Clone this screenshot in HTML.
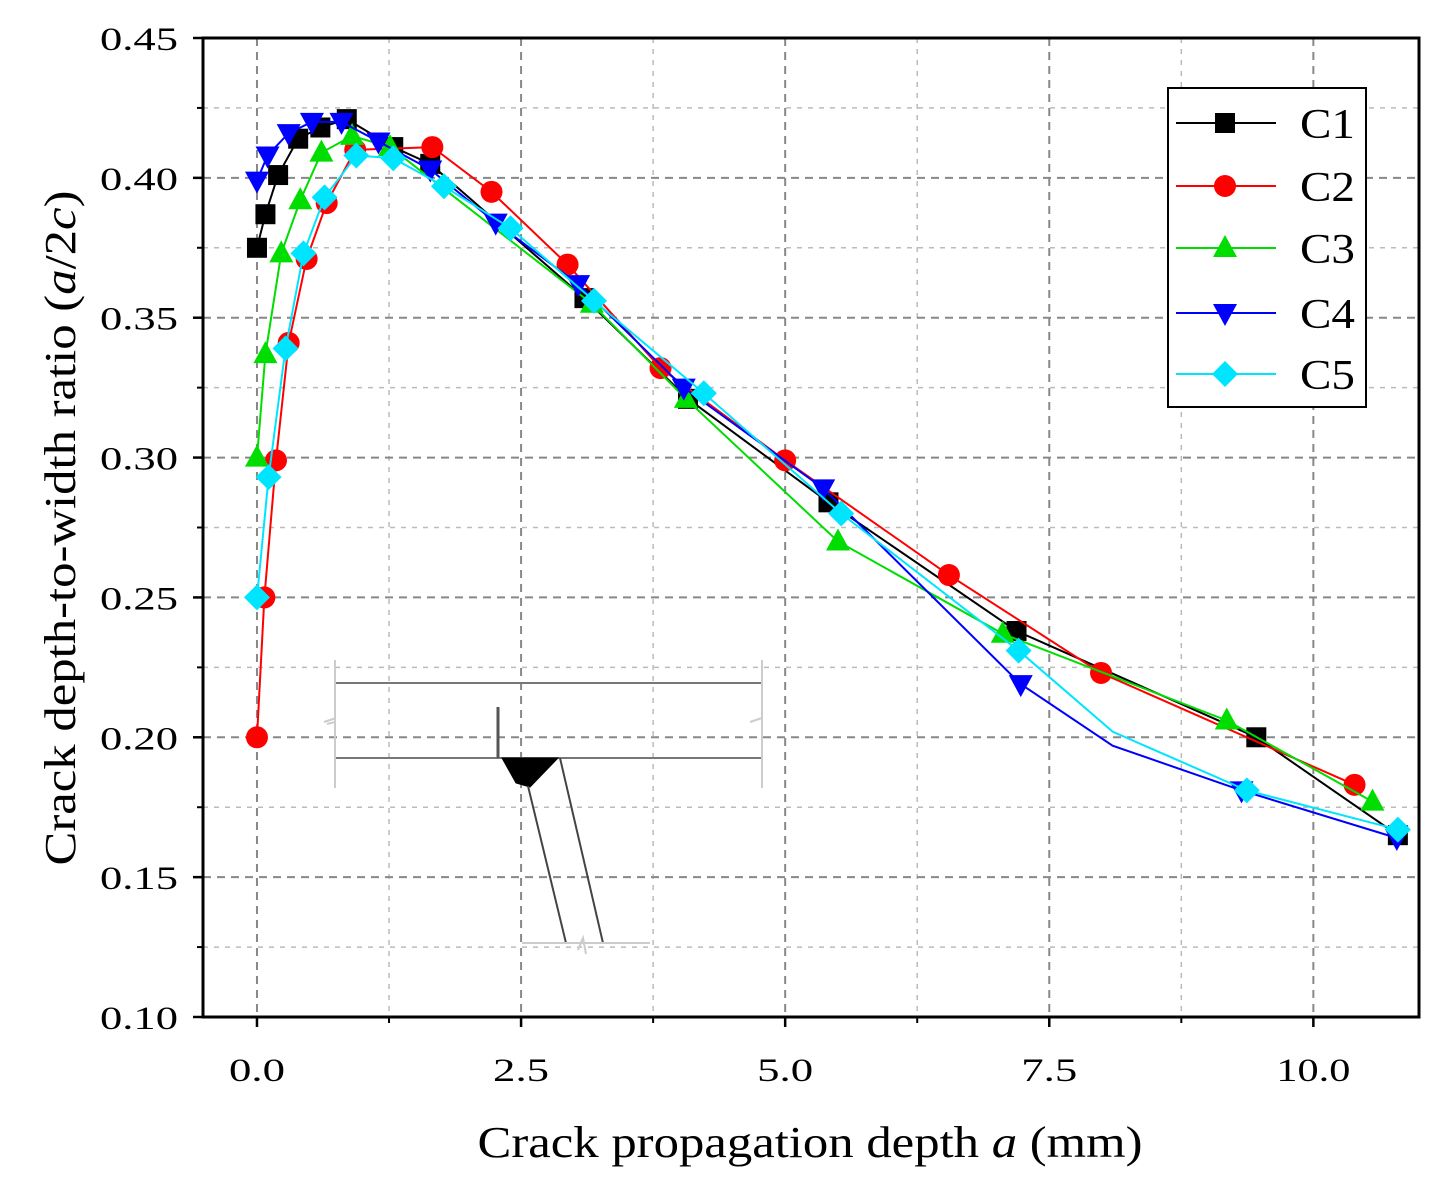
<!DOCTYPE html>
<html><head><meta charset="utf-8"><style>
html,body{margin:0;padding:0;background:#fff;}
svg{display:block;font-family:"Liberation Serif",serif;}
</style></head><body>
<svg id="chart" width="1446" height="1193" viewBox="0 0 1446 1193" xmlns="http://www.w3.org/2000/svg">
<g id="grid"></g>
<g id="inset" stroke-linecap="butt" fill="none">
  <line x1="335" y1="683" x2="762" y2="683" stroke="#777" stroke-width="2"/>
  <line x1="335" y1="758" x2="762" y2="758" stroke="#777" stroke-width="2"/>
  <line x1="335" y1="660" x2="335" y2="788" stroke="#ccc" stroke-width="2"/>
  <line x1="762" y1="660" x2="762" y2="788" stroke="#ccc" stroke-width="2"/>
  <path d="M324,722 l12,-4 M750,722 l12,-4 M335,722 l-8,2" stroke="#ccc" stroke-width="2"/>
  <line x1="498" y1="707" x2="498" y2="758" stroke="#555" stroke-width="3"/>
  <path d="M502,758 L558,758 L530,787 L516,783 Z" fill="#000" stroke="#000"/>
  <line x1="528" y1="786" x2="566" y2="943" stroke="#444" stroke-width="2"/>
  <line x1="560" y1="758" x2="603" y2="943" stroke="#444" stroke-width="2"/>
  <line x1="522" y1="943" x2="650" y2="943" stroke="#ccc" stroke-width="2"/>
  <path d="M578,950 l5,-12 l3,16" stroke="#ccc" stroke-width="2"/>
</g>
<g id="series"></g>
<rect x="203" y="38" width="1216" height="979" fill="none" stroke="#000" stroke-width="3"/>
<g id="axes"></g>
<text x="810" y="1157" text-anchor="middle" font-size="44" textLength="665" lengthAdjust="spacingAndGlyphs">Crack propagation depth <tspan font-style="italic">a</tspan> (mm)</text>
<text transform="translate(75,528) rotate(-90)" text-anchor="middle" font-size="44" textLength="675" lengthAdjust="spacingAndGlyphs">Crack depth-to-width ratio (<tspan font-style="italic">a</tspan>/2<tspan font-style="italic">c</tspan>)</text>
<g id="legend">
  <rect x="1168" y="88" width="198" height="319" fill="#fff" stroke="#000" stroke-width="2"/>
</g>
</svg>
<script>
const seriesNames = ["C1","C2","C3","C4","C5"];
const seriesColors = ["#000000","#ff0000","#00dd00","#0000ff","#00e5ff"];
const seriesMarkers = ["square","circle","triangle","tridown","diamond"];
const c1x = [0,0.08,0.2,0.39,0.6,0.85,1.29,1.64,3.1,4.08,5.41,7.19,9.46,10.8];
const c1y = [0.375,0.387,0.401,0.414,0.418,0.421,0.411,0.405,0.357,0.321,0.284,0.238,0.200,0.165];
const c2x = [0,0.07,0.18,0.3,0.47,0.66,0.93,1.66,2.22,2.94,3.82,5.0,6.55,7.99,10.39];
const c2y = [0.200,0.250,0.299,0.341,0.371,0.391,0.410,0.411,0.395,0.369,0.332,0.299,0.258,0.223,0.183];
const c3x = [0,0.08,0.23,0.41,0.61,0.9,1.26,3.17,4.06,5.5,7.06,9.18,10.56];
const c3y = [0.300,0.337,0.373,0.392,0.409,0.415,0.411,0.355,0.321,0.270,0.237,0.206,0.177];
const c4x = [0,0.1,0.3,0.52,0.8,1.15,1.64,2.26,3.04,4.04,5.36,7.23,8.1,9.32,10.79];
const c4y = [0.399,0.408,0.416,0.420,0.420,0.413,0.403,0.384,0.362,0.325,0.289,0.219,0.197,0.181,0.164];
const c4m = [1,1,1,1,1,1,1,1,1,1,1,1,0,1,1];
const c5x = [0,0.11,0.27,0.44,0.64,0.94,1.29,1.77,2.4,3.19,4.23,5.53,7.21,8.1,9.37,10.8];
const c5y = [0.250,0.293,0.339,0.373,0.393,0.408,0.407,0.397,0.382,0.356,0.323,0.280,0.231,0.202,0.181,0.167];
const c5m = [1,1,1,1,1,1,1,1,1,1,1,1,1,0,1,1];
const xTicks = [0,2.5,5,7.5,10];
const xTickLabels = ["0.0","2.5","5.0","7.5","10.0"];
const yTicks = [0.10,0.15,0.20,0.25,0.30,0.35,0.40,0.45];
const yTickLabels = ["0.10","0.15","0.20","0.25","0.30","0.35","0.40","0.45"];

const L=203,R=1419,T=38,B=1017, XMIN=-0.511, XMAX=11.0, YMIN=0.10, YMAX=0.45;
const sx = v => L + (v-XMIN)/(XMAX-XMIN)*(R-L);
const sy = v => B - (v-YMIN)/(YMAX-YMIN)*(B-T);
const NS="http://www.w3.org/2000/svg";
function mk(tag, attrs, parent){const e=document.createElementNS(NS,tag);for(const k in attrs)e.setAttribute(k,attrs[k]);parent.appendChild(e);return e;}
const grid=document.getElementById('grid'), axes=document.getElementById('axes'), ser=document.getElementById('series'), leg=document.getElementById('legend');

for(let i=0;i<xTicks.length;i++){
  const x=sx(xTicks[i]);
  const g=mk('line',{x1:x,x2:x,y1:T,y2:B,stroke:'#888','stroke-width':2,'stroke-dasharray':'8,6'},grid);
  
  
  const xm=sx(xTicks[i]+1.25);
  if(xm<R-2){const gm=mk('line',{x1:xm,x2:xm,y1:T,y2:B,stroke:'#bbb','stroke-width':1.5,'stroke-dasharray':'5,6'},grid);
  
  }
}
for(let i=0;i<yTicks.length;i++){
  const y=sy(yTicks[i]);
  if(i>0&&i<yTicks.length-1){const g=mk('line',{x1:L,x2:R,y1:y,y2:y,stroke:'#888','stroke-width':2,'stroke-dasharray':'8,6'},grid);
  
  }
  if(i<yTicks.length-1){const ym=sy(yTicks[i]+0.025);
  const gm=mk('line',{x1:L,x2:R,y1:ym,y2:ym,stroke:'#bbb','stroke-width':1.5,'stroke-dasharray':'5,6'},grid);
  
  }
}
for(let i=0;i<xTicks.length;i++){
  const x=sx(xTicks[i]);
  mk('line',{x1:x,x2:x,y1:B,y2:B+10,stroke:'#000','stroke-width':2.5},axes);
  const xm=sx(xTicks[i]+1.25);
  if(xm<R) mk('line',{x1:xm,x2:xm,y1:B,y2:B+6,stroke:'#000','stroke-width':2},axes);
  const t=mk('text',{x:x,y:1081,'text-anchor':'middle','font-size':33,textLength:(xTickLabels[i].length>3?74:56),lengthAdjust:'spacingAndGlyphs'},axes);
  t.textContent=xTickLabels[i];
  
  
}
for(let i=0;i<yTicks.length;i++){
  const y=sy(yTicks[i]);
  mk('line',{x1:L-10,x2:L,y1:y,y2:y,stroke:'#000','stroke-width':2.5},axes);
  if(i<yTicks.length-1){const ym=sy(yTicks[i]+0.025);mk('line',{x1:L-6,x2:L,y1:ym,y2:ym,stroke:'#000','stroke-width':2},axes);}
  const t=mk('text',{x:178,y:y+12,'text-anchor':'end','font-size':33,textLength:78,lengthAdjust:'spacingAndGlyphs'},axes);
  t.textContent=yTickLabels[i];
  
  
}

function marker(type,x,y,color,parent){
  let e;
  if(type==='square') e=mk('rect',{x:x-10,y:y-10,width:20,height:20,fill:color},parent);
  else if(type==='circle') e=mk('circle',{cx:x,cy:y,r:11,fill:color},parent);
  else if(type==='triangle') e=mk('polygon',{points:`${x},${y-13} ${x+12},${y+9} ${x-12},${y+9}`,fill:color},parent);
  else if(type==='tridown') e=mk('polygon',{points:`${x},${y+13} ${x+12},${y-9} ${x-12},${y-9}`,fill:color},parent);
  else e=mk('polygon',{points:`${x},${y-13} ${x+13},${y} ${x},${y+13} ${x-13},${y}`,fill:color},parent);
  return e;
}
const allX=[c1x,c2x,c3x,c4x,c5x], allY=[c1y,c2y,c3y,c4y,c5y], allM=[null,null,null,c4m,c5m];
for(let s=0;s<5;s++){
  const g=mk('g',{},ser);
  
  
  const pts=allX[s].map((v,i)=>sx(v)+','+sy(allY[s][i])).join(' ');
  const pl=mk('polyline',{points:pts,fill:'none',stroke:seriesColors[s],'stroke-width':2},g);
  
  
  for(let i=0;i<allX[s].length;i++){
    if(allM[s]&&!allM[s][i]) continue;
    const m=marker(seriesMarkers[s],sx(allX[s][i]),sy(allY[s][i]),seriesColors[s],g);
    
    
  }
}
const ly=[123,186,248,313,374];
for(let s=0;s<5;s++){
  const g=mk('g',{},leg);
  
  
  mk('line',{x1:1176,x2:1276,y1:ly[s],y2:ly[s],stroke:seriesColors[s],'stroke-width':2},g);
  marker(seriesMarkers[s],1225,ly[s],seriesColors[s],g);
  const t=mk('text',{x:1300,y:ly[s]+15,'font-size':42,textLength:55,lengthAdjust:'spacingAndGlyphs'},g);
  t.textContent=seriesNames[s];
}
</script>
</body></html>
